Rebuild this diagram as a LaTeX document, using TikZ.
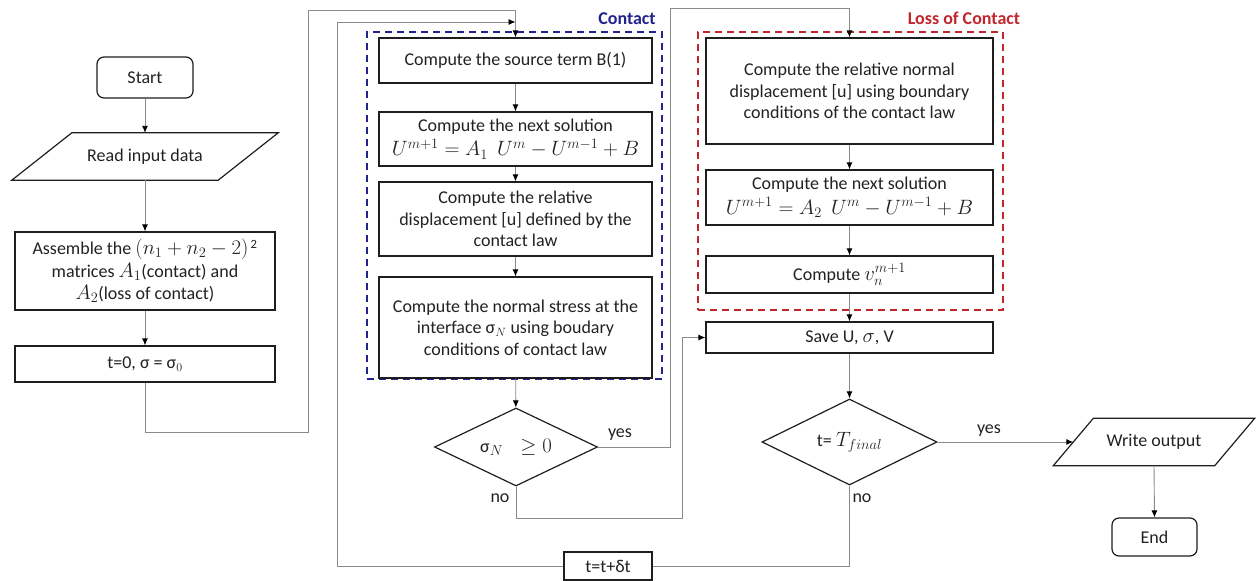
\documentclass[tikz,border=0pt]{standalone}
\usepackage{fontspec}
\setmainfont{Carlito}
\usetikzlibrary{arrows.meta,shapes.geometric,calc}
\definecolor{conn}{HTML}{8A8A8A}
\definecolor{txt}{HTML}{222222}
\definecolor{edge}{HTML}{1E1E1E}
\definecolor{cblue}{HTML}{23238C}
\definecolor{cred}{HTML}{C0262D}
\newcommand{\mymth}[1]{{\fontsize{19.5}{21.5}\selectfont$#1$}}
\begin{document}
\begin{tikzpicture}[x=1pt,y=-1pt,
  font=\fontsize{18}{21.5}\selectfont, text=txt,
  box/.style={draw=edge, line width=1.2pt, fill=white, inner sep=0pt, align=center},
  term/.style={box, rounded corners=7pt},
  dia/.style={diamond, aspect=2, draw=edge, line width=1.2pt, inner sep=0pt, align=center},
  io/.style={inner sep=0pt, align=center},
  region/.style={line width=1.8pt, dash pattern=on 7pt off 5pt, inner sep=0pt},
  conn/.style={draw=conn, line width=0.9pt},
  arr/.style={conn, -{Latex[length=7pt,width=6pt,color=black]}},
  lab/.style={inner sep=0pt}
]
\useasboundingbox (0,0) rectangle (1256,581);

% regions
\node[region, draw=cblue, minimum width=295, minimum height=347] (contact) at (514.5,205.5) {};
\node[region, draw=cred, minimum width=305, minimum height=278] (loss) at (850.5,171) {};
\node[lab, text=cblue, font=\fontsize{18}{21.5}\selectfont\bfseries] (contactlab) at (627,19) {Contact};
\node[lab, text=cred, font=\fontsize{18}{21.5}\selectfont\bfseries] (losslab) at (964,18) {Loss of Contact};

% left column
\node[term, minimum width=96, minimum height=41] (start) at (145,77.5) {Start};
\node[io, minimum width=206, minimum height=47] (read) at (145,156.5) {Read input data};
\draw[draw=edge, line width=1.2pt]
  ($(read.north west)+(30,0)$) -- ($(read.north east)+(30,0)$) --
  ($(read.south east)+(-30,0)$) -- ($(read.south west)+(-30,0)$) -- cycle;
\node[box, minimum width=260, minimum height=78] (assemble) at (145,271)
  {Assemble the \mymth{(n_1+n_2-2)}\textsuperscript{\,2}\\[1pt]matrices \mymth{A_1}(contact) and\\[1pt]\mymth{A_2}(loss of contact)};
\node[box, minimum width=260, minimum height=36] (t0) at (145,364) {t=0, σ = σ$_0$};

% contact column
\node[box, minimum width=273, minimum height=45] (b1) at (515.5,60.5) {Compute the source term B(1)};
\node[box, minimum width=273, minimum height=54] (next1) at (515.5,139)
  {Compute the next solution\\[3pt]\mymth{U^{m+1}=A_1\;\,U^m-U^{m-1}+B}};
\node[box, minimum width=273, minimum height=74] (rel1) at (515.5,219)
  {Compute the relative\\displacement [u] defined by the\\contact law};
\node[box, minimum width=273, minimum height=101] (stress) at (515.5,327.5)
  {Compute the normal stress at the\\interface σ$_N$ using boudary\\conditions of contact law};
\node[dia, minimum width=163, minimum height=78] (d1) at (516,447) {σ\mymth{_N\;\;\geq 0}};

% loss column
\node[box, minimum width=287, minimum height=106] (rel2) at (849.5,91)
  {Compute the relative normal\\displacement [u] using boundary\\conditions of the contact law};
\node[box, minimum width=287, minimum height=55] (next2) at (849.5,197.5)
  {Compute the next solution\\[3pt]\mymth{U^{m+1}=A_2\;\,U^m-U^{m-1}+B}};
\node[box, minimum width=287, minimum height=37] (vn) at (849.5,274.5) {Compute \mymth{v_n^{m+1}}};
\node[box, minimum width=287, minimum height=31] (save) at (849.5,337.5) {Save U, \mymth{\sigma}, V};
\node[dia, minimum width=175, minimum height=86] (d2) at (849.5,442) {t= \mymth{T_{final}}};

% right
\node[io, minimum width=161, minimum height=47] (write) at (1154,442) {Write output};
\draw[draw=edge, line width=1.2pt]
  ($(write.north west)+(20,0)$) -- ($(write.north east)+(20,0)$) --
  ($(write.south east)+(-20,0)$) -- ($(write.south west)+(-20,0)$) -- cycle;
\node[term, minimum width=85, minimum height=38] (end) at (1154.5,537) {End};
\node[box, minimum width=88, minimum height=28] (tdt) at (608,566) {t=t+δt};

% waypoints
\coordinate (w1) at (308,10);
\coordinate (w2) at (670,8);
\coordinate (w3) at (682,518);
\coordinate (w4) at (337,22);
\coordinate (join) at (515.5,22);

% connectors
\draw[arr] (start) -- (read);
\draw[arr] (read) -- (assemble);
\draw[arr] (assemble) -- (t0);
\draw[arr] (t0.south) -- ++(0,50) -| (w1) -| (b1.north);
\draw[arr] (b1) -- (next1);
\draw[arr] (next1) -- (rel1);
\draw[arr] (rel1) -- (stress);
\draw[arr] (stress) -- (d1);
\draw[arr] (d1.east) -| (w2) -| (rel2.north);
\draw[arr] (d1.south) |- (w3) |- (save.west);
\draw[arr] (rel2) -- (next2);
\draw[arr] (next2) -- (vn);
\draw[arr] (vn) -- (save);
\draw[arr] (save) -- (d2);
\draw[arr] (d2.east) -- (write.west);
\draw[arr] (write.south) -- (end.north);
\draw[conn] (d2.south) |- (tdt.east);
\draw[arr] (tdt.west) -| (w4) -- (join);

% labels
\node[lab] (yes1) at (620,435) {yes};
\node[lab] (no1) at (500,498) {no};
\node[lab] (yes2) at (989,431) {yes};
\node[lab] (no2) at (862,498) {no};
\end{tikzpicture}
\end{document}
